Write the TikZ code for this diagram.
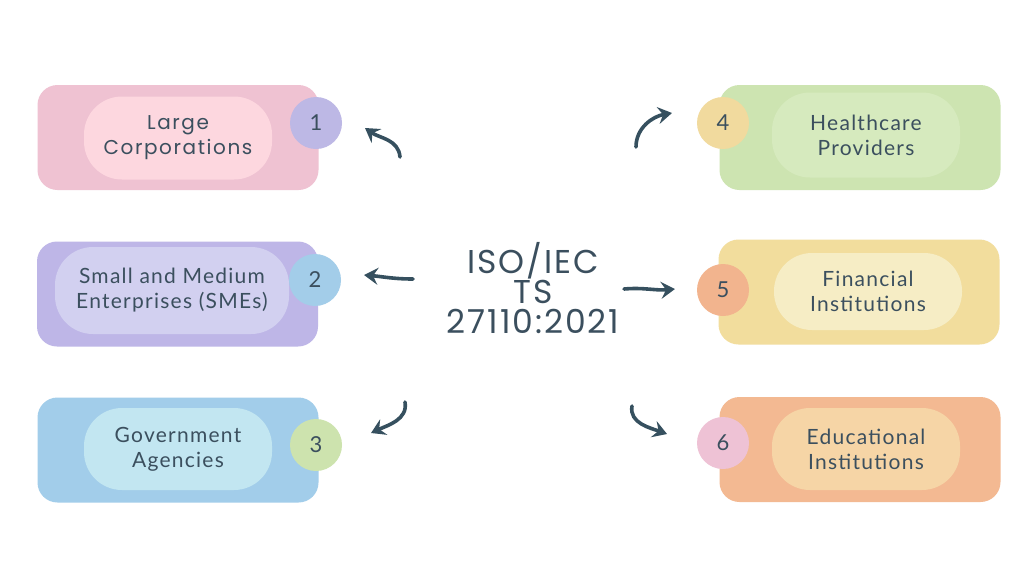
\documentclass[tikz,border=0pt]{standalone}
\usepackage{fontspec}
\setmainfont{Lato}[LetterSpace=6]
\newfontfamily\geofont{Poppins}[LetterSpace=8]
\newfontfamily\titlefont{Poppins}[LetterSpace=6]
\usetikzlibrary{arrows.meta,positioning}
\definecolor{ink}{HTML}{3B4F5E}
\definecolor{arrowink}{HTML}{36505F}
\definecolor{pink-box}{HTML}{EFC2D2}
\definecolor{pink-pill}{HTML}{FDD7DF}
\definecolor{lilac-box}{HTML}{BEB6E7}
\definecolor{lilac-pill}{HTML}{D2D0F0}
\definecolor{blue-box}{HTML}{A2CDEA}
\definecolor{blue-pill}{HTML}{C2E6F1}
\definecolor{green-box}{HTML}{CDE4B1}
\definecolor{green-pill}{HTML}{D6EABE}
\definecolor{yellow-box}{HTML}{F2DD9D}
\definecolor{yellow-pill}{HTML}{F6EDC5}
\definecolor{orange-box}{HTML}{F3B992}
\definecolor{orange-pill}{HTML}{F6D5A6}
\definecolor{lilac-dot}{HTML}{BDB8E5}
\definecolor{blue-dot}{HTML}{A3CDE9}
\definecolor{green-dot}{HTML}{CDE3AE}
\definecolor{yellow-dot}{HTML}{F1DA9E}
\definecolor{orange-dot}{HTML}{F2B48E}
\definecolor{pink-dot}{HTML}{EEC2D5}

\tikzset{
  card/.style={rectangle, rounded corners=20pt, minimum width=281pt, minimum height=105pt, inner sep=0pt},
  pill/.style={rectangle, rounded corners=38pt, inner sep=0pt, align=center, text=ink,
    font=\fontsize{21}{25}\selectfont},
  dot/.style={circle, minimum size=52pt, inner sep=0pt, text=ink, font=\fontsize{22}{22}\selectfont},
  curly/.style={-{Stealth[length=14pt,width=17pt,inset=5pt]}, line width=3.6pt, arrowink, line cap=round},
}

\begin{document}
\begin{tikzpicture}[x=1pt, y=-1pt]
\useasboundingbox[fill=white] (0,0) rectangle (1024,576);

% left column
\node[card, fill=pink-box] (c1) at (178,137.5) {};
\node[pill, fill=pink-pill, minimum width=188pt, minimum height=83pt, font=\geofont\fontsize{20}{25}\selectfont] (p1) at (178,138) {Large\\Corporations};
\node[dot, fill=lilac-dot] (n1) at (316,123) {1};

\node[card, fill=lilac-box] (c2) at (177.5,294) {};
\node[pill, fill=lilac-pill, minimum width=234pt, minimum height=87pt] (p2) at (172,290.5) {Small and Medium\\Enterprises (SMEs)};
\node[dot, fill=blue-dot] (n2) at (315,280) {2};

\node[card, fill=blue-box] (c3) at (178,450) {};
\node[pill, fill=blue-pill, minimum width=188pt, minimum height=82pt] (p3) at (178,449) {Government\\Agencies};
\node[dot, fill=green-dot] (n3) at (316,445) {3};

% right column
\node[card, fill=green-box] (c4) at (860,137.5) {};
\node[pill, fill=green-pill, minimum width=188pt, minimum height=85pt] (p4) at (866,135) {Healthcare\\Providers};
\node[dot, fill=yellow-dot] (n4) at (723,123) {4};

\node[card, fill=yellow-box] (c5) at (859,292) {};
\node[pill, fill=yellow-pill, minimum width=188pt, minimum height=77pt] (p5) at (868,291.5) {Financial\\Institutions};
\node[dot, fill=orange-dot] (n5) at (723,290) {5};

\node[card, fill=orange-box] (c6) at (860,449.5) {};
\node[pill, fill=orange-pill, minimum width=188pt, minimum height=82pt] (p6) at (866,449) {Educational\\Institutions};
\node[dot, fill=pink-dot] (n6) at (723,443) {6};

% centre
\node[align=center, text=ink, font=\titlefont\fontsize{33}{30}\selectfont] (iso) at (533,288) {ISO/IEC\\TS\\27110:2021};

% arrow ends
\coordinate (a1s) at (400,157); \coordinate (a1e) at (365,128);
\coordinate (a2s) at (413,279); \coordinate (a2e) at (364,275);
\coordinate (a3s) at (405,402); \coordinate (a3e) at (371,433);
\coordinate (a4s) at (636,147); \coordinate (a4e) at (672,113);
\coordinate (a5s) at (624,289); \coordinate (a5e) at (675,289);
\coordinate (a6s) at (632,406); \coordinate (a6e) at (667,434);

\draw[curly] (a1s) to[out=95,in=-35] (a1e);
\draw[curly] (a2s) to[out=180,in=-5] (a2e);
\draw[curly] (a3s) to[out=-80,in=25] (a3e);
\draw[curly] (a4s) to[out=90,in=190] (a4e);
\draw[curly] (a5s) to[out=5,in=185] (a5e);
\draw[curly] (a6s) to[out=-100,in=160] (a6e);
\end{tikzpicture}
\end{document}
